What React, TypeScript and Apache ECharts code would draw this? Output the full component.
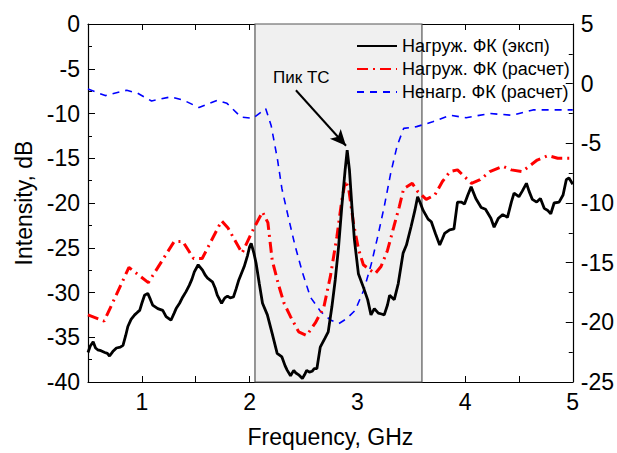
import React, { useEffect, useRef } from "react";
import * as echarts from "echarts";

// ---- data ----
const blackFreq = [0.5,0.52,0.548,0.57,0.59,0.62,0.656,0.68,0.7,0.73,0.764,0.8,0.825,0.85,0.87,0.9,0.933,0.96,0.98,1.0,1.025,1.055,1.08,1.1,1.148,1.194,1.225,1.27,1.3,1.318,1.35,1.38,1.41,1.44,1.465,1.487,1.523,1.563,1.59,1.61,1.655,1.68,1.7,1.74,1.77,1.795,1.82,1.85,1.875,1.9,1.95,1.98,2.0,2.015,2.04,2.06,2.09,2.12,2.165,2.21,2.256,2.3,2.33,2.35,2.38,2.41,2.43,2.456,2.49,2.51,2.53,2.555,2.58,2.6,2.625,2.656,2.7,2.73,2.764,2.795,2.826,2.856,2.887,2.906,2.927,2.95,2.973,3.01,3.056,3.096,3.127,3.158,3.195,3.225,3.25,3.28,3.3,3.343,3.38,3.425,3.456,3.5,3.535,3.56,3.585,3.61,3.657,3.687,3.725,3.765,3.79,3.81,3.857,3.897,3.93,3.964,3.995,4.026,4.057,4.1,4.15,4.19,4.24,4.27,4.31,4.35,4.394,4.43,4.455,4.5,4.53,4.57,4.595,4.625,4.665,4.7,4.735,4.765,4.796,4.827,4.873,4.91,4.94,4.965,5.0];
const blackDb = [-36.7,-36.0,-35.5,-36.2,-36.4,-36.5,-36.7,-36.8,-37.1,-36.6,-36.2,-36.1,-35.9,-34.8,-33.8,-33.0,-32.5,-32.2,-32.0,-31.2,-30.3,-30.1,-30.8,-31.4,-31.8,-32.0,-32.7,-33.1,-32.3,-31.8,-31.2,-30.5,-29.9,-29.2,-28.5,-27.7,-26.9,-27.5,-28.1,-28.4,-28.8,-29.5,-30.3,-31.2,-30.6,-30.4,-30.6,-30.5,-29.6,-28.6,-27.1,-25.9,-24.9,-24.5,-25.6,-26.7,-29.0,-31.2,-32.5,-34.6,-36.8,-37.2,-38.2,-38.7,-39.3,-38.7,-39.0,-39.2,-39.6,-39.2,-38.7,-38.9,-38.8,-38.5,-38.5,-36.1,-35.1,-34.4,-31.6,-28.6,-24.9,-20.4,-16.3,-14.1,-16.3,-20.4,-24.1,-27.9,-29.4,-30.8,-32.5,-31.8,-32.3,-32.4,-32.5,-31.4,-30.3,-30.8,-29.0,-25.6,-24.7,-22.6,-20.8,-19.3,-20.0,-20.8,-21.8,-22.1,-23.4,-24.7,-24.0,-23.4,-23.0,-22.9,-19.9,-19.9,-20.1,-19.1,-18.2,-19.5,-20.5,-20.7,-21.7,-22.7,-21.7,-21.3,-21.6,-19.9,-18.9,-19.3,-18.7,-17.8,-18.7,-19.6,-19.9,-19.5,-20.6,-20.8,-21.2,-20.0,-19.9,-19.1,-17.4,-17.2,-17.9];

const redFreq = [0.5,0.65,0.88,1.06,1.3,1.38,1.48,1.56,1.74,1.8,1.93,2.04,2.12,2.17,2.21,2.27,2.32,2.38,2.456,2.53,2.61,2.69,2.75,2.81,2.856,2.89,2.92,2.965,3.01,3.056,3.12,3.165,3.22,3.28,3.34,3.39,3.43,3.51,3.56,3.64,3.72,3.79,3.86,3.93,4.06,4.14,4.23,4.35,4.43,4.53,4.67,4.77,4.86,5.0];
const redDb = [-32.5,-33.2,-27.2,-28.9,-24.3,-24.3,-26.2,-26.2,-22.0,-22.8,-25.6,-22.8,-21.0,-22.2,-26.4,-29.2,-31.2,-32.7,-34.4,-34.8,-33.4,-31.6,-28.2,-23.8,-19.7,-17.5,-18.4,-22.3,-25.1,-26.9,-27.5,-27.9,-27.1,-25.3,-22.6,-20.4,-18.4,-17.8,-18.7,-19.6,-19.1,-17.6,-16.5,-16.3,-17.8,-17.4,-16.5,-15.9,-16.3,-16.5,-15.2,-14.7,-15.0,-15.0];

const blueFreq = [0.5,0.66,0.86,0.96,1.09,1.27,1.39,1.53,1.7,1.79,1.92,2.03,2.15,2.2,2.26,2.3,2.36,2.42,2.49,2.565,2.66,2.75,2.83,2.9,2.98,3.06,3.13,3.19,3.25,3.31,3.37,3.43,3.55,3.7,3.86,4.01,4.23,4.44,4.63,4.97,5.0];
const blueDb = [-0.45,-1.0,-0.55,-0.8,-1.45,-1.1,-1.4,-2.0,-1.4,-1.65,-2.8,-2.9,-2.1,-3.5,-6.4,-8.8,-11.2,-13.5,-15.8,-17.9,-19.1,-19.8,-20.1,-19.7,-19.0,-17.3,-15.1,-12.8,-10.3,-7.5,-5.2,-3.75,-3.6,-3.2,-2.65,-2.85,-2.5,-2.65,-2.2,-2.2,-2.2];

const seriesNames = ["Нагруж. ФК (эксп)", "Нагруж. ФК (расчет)", "Ненагр. ФК (расчет)"];
const shadedRange = [2.05, 3.6];
const peakLabel = "Пик ТС";
const arrowFrom = [2.43, -7.4];
const arrowTo = [2.895, -13.6];
const peakLabelAt = [2.48, -6.0];

const zip = (a: number[], b: number[]) => a.map((v, i) => [v, b[i]]);

const FONT = "Liberation Sans, Arial, sans-serif";

export default function App() {
  const ref = useRef<HTMLDivElement>(null);
  useEffect(() => {
    if (!ref.current) return;
    const chart = echarts.init(ref.current, undefined, { renderer: "svg" });
    const axisLine = { show: true, onZero: false, lineStyle: { color: "#000", width: 1.2 } };
    const xCommon = {
      type: "value",
      min: 0.5,
      max: 5,
      interval: 0.5,
      axisLine,
      splitLine: { show: false },
      axisTick: { show: true, inside: true, length: 6, lineStyle: { color: "#000" } },
    };
    chart.setOption({
      animation: false,
      textStyle: { fontFamily: FONT },
      grid: { left: 88, right: 43, top: 24, bottom: 71 },
      legend: {
        orient: "vertical",
        left: 351,
        top: 32,
        itemWidth: 40,
        itemHeight: 14,
        itemGap: 5,
        selectedMode: false,
        data: seriesNames,
        itemStyle: { color: "rgba(0,0,0,0)", borderWidth: 0, opacity: 0 },
        textStyle: { fontSize: 18, color: "#000", fontFamily: FONT, lineHeight: 18 },
      },
      xAxis: [
        {
          ...xCommon,
          position: "bottom",
          name: "Frequency, GHz",
          nameLocation: "middle",
          nameGap: 43,
          nameTextStyle: { fontSize: 23, color: "#000", fontFamily: FONT },
          axisLabel: {
            fontSize: 23,
            color: "#000",
            margin: 8,
            fontFamily: FONT,
            formatter: (v: number) => (Number.isInteger(v) ? String(v) : ""),
          },
        },
        {
          ...xCommon,
          position: "top",
          axisLabel: { show: false },
        },
      ],
      yAxis: [
        {
          type: "value",
          min: -40,
          max: 0,
          interval: 5,
          position: "left",
          name: "Intensity, dB",
          nameLocation: "middle",
          nameGap: 53,
          nameTextStyle: { fontSize: 23, color: "#000", fontFamily: FONT },
          axisLine,
          splitLine: { show: false },
          axisTick: { show: true, inside: true, length: 7, lineStyle: { color: "#000" } },
          minorTick: { show: true, splitNumber: 2, length: 4, lineStyle: { color: "#000" } },
          axisLabel: { fontSize: 23, color: "#000", margin: 8, fontFamily: FONT },
        },
        {
          type: "value",
          min: -25,
          max: 5,
          interval: 5,
          position: "right",
          axisLine,
          splitLine: { show: false },
          axisTick: { show: true, inside: true, length: 7, lineStyle: { color: "#000" } },
          minorTick: { show: true, splitNumber: 2, length: 4, lineStyle: { color: "#000" } },
          axisLabel: { fontSize: 23, color: "#000", margin: 8, fontFamily: FONT },
        },
      ],
      series: [
        {
          name: seriesNames[0],
          type: "line",
          xAxisIndex: 0,
          yAxisIndex: 0,
          data: zip(blackFreq, blackDb),
          showSymbol: false,
          symbol: "none",
          z: 4,
          lineStyle: { color: "#000", width: 2.8 },
          itemStyle: { color: "#000" },
          markArea: {
            silent: true,
            z: 1,
            itemStyle: { color: "#f0f0f0", borderColor: "#555", borderWidth: 1.2 },
            data: [[{ xAxis: shadedRange[0] }, { xAxis: shadedRange[1] }]],
          },
          markLine: {
            silent: true,
            symbolSize: [11, 16],
            lineStyle: { color: "#000", width: 2, type: "solid" },
            label: { show: false },
            data: [[
              { coord: arrowFrom, symbol: "none" },
              { coord: arrowTo, symbol: "arrow" },
            ]],
          },
          markPoint: {
            silent: true,
            symbol: "circle",
            symbolSize: 0,
            data: [{
              coord: peakLabelAt,
              label: { show: true, position: "inside", formatter: peakLabel, color: "#000", fontSize: 17, fontFamily: FONT },
            }],
          },
        },
        {
          name: seriesNames[1],
          type: "line",
          xAxisIndex: 0,
          yAxisIndex: 0,
          data: zip(redFreq, redDb),
          showSymbol: false,
          symbol: "none",
          z: 3,
          lineStyle: { color: "#ff0000", width: 3, type: [11, 5, 2, 5] },
          itemStyle: { color: "#ff0000" },
        },
        {
          name: seriesNames[2],
          type: "line",
          xAxisIndex: 0,
          yAxisIndex: 1,
          data: zip(blueFreq, blueDb),
          showSymbol: false,
          symbol: "none",
          z: 2,
          lineStyle: { color: "#0000ff", width: 1.6, type: [7, 6] },
          itemStyle: { color: "#0000ff" },
        },
      ],
    });
    return () => chart.dispose();
  }, []);
  return <div ref={ref} style={{ width: 617, height: 453, position: "absolute", left: 0, top: 0 }} />;
}
